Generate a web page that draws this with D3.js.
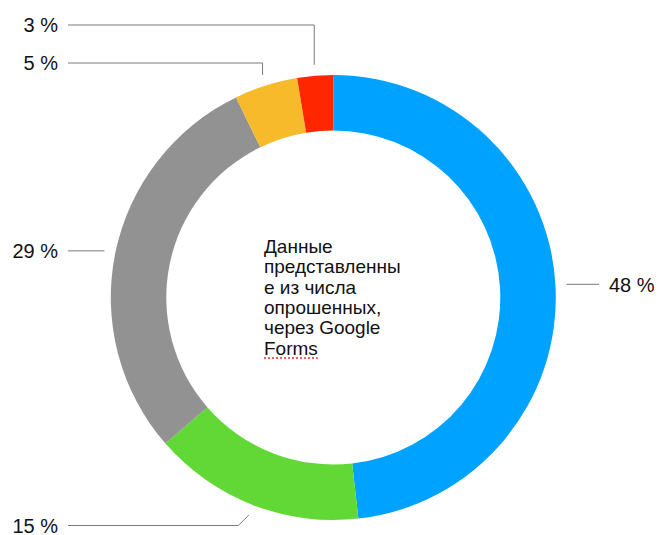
<!DOCTYPE html>
<html>
<head>
<meta charset="utf-8">
<script src="https://cdn.jsdelivr.net/npm/d3@7"></script>
<style>
  body { margin: 0; background: #fff; }
  svg { display: block; }
  text { font-family: "Liberation Sans", Arial, Helvetica, sans-serif; fill: #111; }
</style>
</head>
<body>
<div class="graph-container"></div>
<script>
// data (clockwise from 12 o'clock)
const categories = ["a", "b", "c", "d", "e"];
const values = [48.2, 15.4, 29.2, 4.6, 2.6];
const colors = ["#00A2FF", "#61D836", "#929292", "#F7BA2B", "#FF2600"];
const note = ["Данные", "представленны", "е из числа", "опрошенных,", "через Google", "Forms"];

let dims = { width: 660, height: 535, cx: 333.3, cy: 297.5, outer: 222.5, inner: 167 };

// label placement: null = keep the height of the slice, bend = how the leader turns
const labelLayout = [
  { y: null, bend: "none" },
  { y: 525.5, bend: "diag" },
  { y: null, bend: "none" },
  { y: 63, bend: "vert" },
  { y: 25, bend: "vert" }
];

const svg = d3.select(".graph-container")
  .append("svg")
  .attr("width", dims.width)
  .attr("height", dims.height);

const graph = svg.append("g")
  .attr("transform", `translate(${dims.cx},${dims.cy})`);

const pie = d3.pie().sort(null).value(d => d.value);
const arc = d3.arc().outerRadius(dims.outer).innerRadius(dims.inner);

const data = categories.map((c, i) => ({ id: c, value: values[i], color: colors[i] }));
const arcs = pie(data);

graph.selectAll("path.arc")
  .data(arcs)
  .enter().append("path")
  .attr("class", "arc")
  .attr("d", arc)
  .attr("fill", d => d.data.color);

// leader lines + labels
const leadR = dims.outer + 11;
const leftX = 68 - dims.cx, rightX = 599 - dims.cx, gap = 10;

arcs.forEach((d, i) => {
  const a = (d.startAngle + d.endAngle) / 2;
  const p = [leadR * Math.sin(a), -leadR * Math.cos(a)];
  const lay = labelLayout[i];
  const right = a < Math.PI;
  const ly = lay.y == null ? p[1] : lay.y - dims.cy;
  const endX = right ? rightX : leftX;
  let pts = [p];
  if (lay.bend === "vert") pts.push([p[0], ly]);
  if (lay.bend === "diag") pts.push([p[0] - Math.abs(ly - p[1]), ly]);
  pts.push([endX, ly]);

  graph.append("path")
    .attr("d", d3.line()(pts))
    .attr("fill", "none")
    .attr("stroke", "#7a7a7a")
    .attr("stroke-width", 1);

  graph.append("text")
    .attr("x", right ? endX + gap : endX - gap)
    .attr("y", ly)
    .attr("dy", "0.36em")
    .attr("text-anchor", right ? "start" : "end")
    .attr("font-size", 20)
    .text(Math.round(d.data.value) + " %");
});

// centre note
const noteG = svg.append("g").attr("transform", "translate(264,253)");
noteG.selectAll("text")
  .data(note)
  .enter().append("text")
  .attr("x", 0)
  .attr("y", (d, i) => i * 20.3)
  .attr("font-size", 19)
  .text(d => d);

// spell-check squiggle under the last word
const lastW = noteG.select("text:last-child").node().getComputedTextLength();
noteG.append("line")
  .attr("x1", 0).attr("x2", lastW)
  .attr("y1", 5 * 20.3 + 3.5).attr("y2", 5 * 20.3 + 3.5)
  .attr("stroke", "#e8322b")
  .attr("stroke-width", 1.5)
  .attr("stroke-dasharray", "2,2");
</script>
</body>
</html>
